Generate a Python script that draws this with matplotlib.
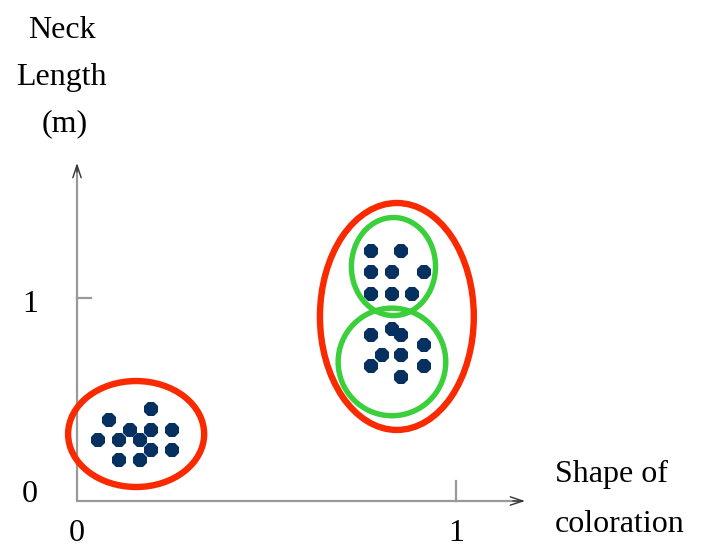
import matplotlib
matplotlib.use("Agg")
import matplotlib.pyplot as plt
from matplotlib.patches import Ellipse

# Data
c1_x = [0.195, 0.085, 0.14, 0.195, 0.25, 0.055, 0.11, 0.165, 0.195, 0.25, 0.11, 0.165]
c1_y = [0.455, 0.40, 0.35, 0.35, 0.35, 0.30, 0.30, 0.30, 0.25, 0.25, 0.20, 0.20]
c2_x = [0.775, 0.855, 0.775, 0.83, 0.915, 0.775, 0.83, 0.885]
c2_y = [1.23, 1.23, 1.13, 1.13, 1.13, 1.02, 1.02, 1.02]
c3_x = [0.775, 0.83, 0.855, 0.915, 0.805, 0.855, 0.775, 0.915, 0.855]
c3_y = [0.82, 0.845, 0.82, 0.77, 0.72, 0.72, 0.665, 0.665, 0.61]

# ellipses: (cx, cy, w, h)
red_ellipses = [(0.156, 0.330, 0.359, 0.522), (0.844, 0.909, 0.406, 1.118)]
green_ellipses = [(0.835, 1.155, 0.222, 0.483), (0.831, 0.685, 0.284, 0.530)]

x_ticks = [0, 1]
y_ticks = [0, 1]

plt.rcParams['font.family'] = ['Liberation Serif', 'DejaVu Serif']
fig = plt.figure(figsize=(7.03, 5.5), dpi=100)
ax = fig.add_axes([0, 0, 1, 1])
ax.set_xlim(-77 / 379, (703 - 77) / 379)
ax.set_ylim(-(550 - 501) / 203, 501 / 203)
ax.axis('off')

axis_col = '#999999'
# axes lines
ax.plot([0, 1.165], [0, 0], color=axis_col, lw=1.6, solid_capstyle='butt', zorder=1)
ax.plot([0, 0], [-0.005, 1.645], color=axis_col, lw=1.6, solid_capstyle='butt', zorder=1)
# arrowheads
ax.annotate('', xy=(1.182, 0), xytext=(1.15, 0),
            arrowprops=dict(arrowstyle='->,head_length=0.9,head_width=0.3', color='#333333', lw=1.0,
                            shrinkA=0, shrinkB=0))
ax.annotate('', xy=(0, 1.665), xytext=(0, 1.62),
            arrowprops=dict(arrowstyle='->,head_length=0.9,head_width=0.3', color='#333333', lw=1.0,
                            shrinkA=0, shrinkB=0))
# ticks
ax.plot([x_ticks[1], x_ticks[1]], [0, 0.0985], color=axis_col, lw=1.6, zorder=1)
ax.plot([0, 0.037], [y_ticks[1], y_ticks[1]], color=axis_col, lw=1.6, zorder=1)

# tick labels
fs = 23
ax.text(-0.125, -0.005, str(y_ticks[0]), ha='center', va='baseline', fontsize=fs)
ax.text(-0.124, y_ticks[1] - 0.069, str(y_ticks[1]), ha='center', va='baseline', fontsize=fs)
ax.text(x_ticks[0], -0.196, str(x_ticks[0]), ha='center', va='baseline', fontsize=fs)
ax.text(x_ticks[1], -0.196, str(x_ticks[1]), ha='center', va='baseline', fontsize=fs)

# axis titles
ax.text(-0.040, 2.281, 'Neck', ha='center', va='baseline', fontsize=fs)
ax.text(-0.042, 2.049, 'Length', ha='center', va='baseline', fontsize=fs)
ax.text(-0.032, 1.823, '(m)', ha='center', va='baseline', fontsize=fs)
ax.text(1.261, 0.0936, 'Shape of', ha='left', va='baseline', fontsize=fs)
ax.text(1.261, -0.153, 'coloration', ha='left', va='baseline', fontsize=fs)

# ellipses
for cx, cy, w, h in red_ellipses:
    ax.add_patch(Ellipse((cx, cy), w, h, fill=False, edgecolor='#fa2a00', lw=4.6, zorder=2))
for cx, cy, w, h in green_ellipses:
    ax.add_patch(Ellipse((cx, cy), w, h, fill=False, edgecolor='#3ccf3c', lw=3.9, zorder=3))

# points
mc = '#06305f'
for xs, ys in [(c1_x, c1_y), (c2_x, c2_y), (c3_x, c3_y)]:
    ax.plot(xs, ys, linestyle='none', marker='8', markersize=11.5, color=mc,
            markeredgewidth=0, zorder=4)

fig.savefig('out.png', dpi=100)
